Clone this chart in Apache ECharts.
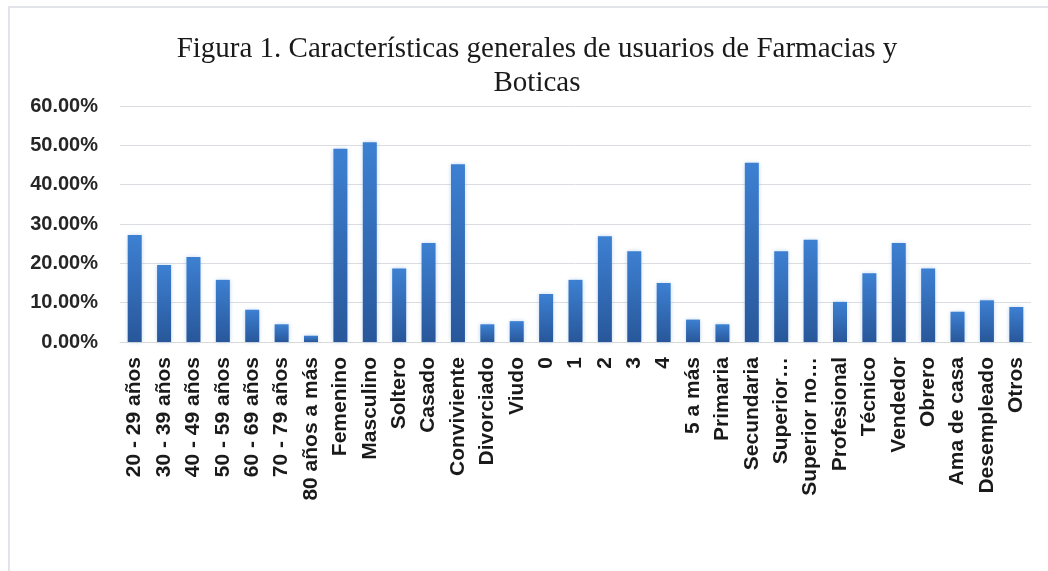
<!DOCTYPE html>
<html>
<head>
<meta charset="utf-8">
<script src="https://cdn.jsdelivr.net/npm/echarts@6/dist/echarts.min.js"></script>
<style>
  html, body { margin: 0; padding: 0; background: #fff; }
  #frame {
    position: absolute; left: 8px; top: 6px; width: 1100px; height: 600px;
    border-top: 2px solid #e1e5ea; border-left: 2px solid #e1e5ea;
  }
  #charts { position: absolute; left: 0; top: 0; width: 1048px; height: 571px; }
</style>
</head>
<body>
<div id="frame"></div>
<div id="charts"></div>
<script>
// categorías del eje x
var categorias = [
  "20 - 29 años", "30 - 39 años", "40 - 49 años", "50 - 59 años", "60 - 69 años",
  "70 - 79 años", "80 años a más", "Femenino", "Masculino", "Soltero", "Casado",
  "Conviviente", "Divorciado", "Viudo", "0", "1", "2", "3", "4", "5 a más",
  "Primaria", "Secundaria", "Superior…", "Superior no…", "Profesional", "Técnico",
  "Vendedor", "Obrero", "Ama de casa", "Desempleado", "Otros"
];
// porcentajes (%)
var porcentajes = [
  27.2, 19.6, 21.6, 15.8, 8.2, 4.5, 1.6, 49.1, 50.8, 18.7, 25.2,
  45.2, 4.5, 5.3, 12.2, 15.8, 26.9, 23.1, 15.0, 5.7,
  4.5, 45.6, 23.1, 26.0, 10.2, 17.5, 25.2, 18.7, 7.7, 10.6, 8.9
];
var ticksY = [0, 10, 20, 30, 40, 50, 60];

var myChart = echarts.init(document.getElementById("charts"));
myChart.setOption({
  animation: false,
  title: {
    text: "Figura 1. Características generales de usuarios de Farmacias y\nBoticas",
    left: 532,
    top: 27,
    textAlign: "center",
    textStyle: {
      fontFamily: "Liberation Serif",
      fontWeight: "normal",
      fontSize: 29,
      lineHeight: 34,
      color: "#1a1a1a",
    },
  },
  grid: { left: 120, right: 17, top: 106, bottom: 229, containLabel: false },
  xAxis: {
    type: "category",
    data: categorias,
    axisLine: { lineStyle: { color: "#d9d9d9" } },
    axisTick: { show: false },
    axisLabel: {
      interval: 0,
      rotate: 90,
      margin: 15,
      fontFamily: "Liberation Sans",
      fontWeight: "bold",
      fontSize: 21,
      color: "#1a1a1a",
    },
  },
  yAxis: {
    type: "value",
    min: ticksY[0],
    max: ticksY[ticksY.length - 1],
    interval: 10,
    axisLine: { show: false },
    axisTick: { show: false },
    splitLine: { lineStyle: { color: "#dadde2" } },
    axisLabel: {
      margin: 22,
      fontFamily: "Liberation Sans",
      fontWeight: "bold",
      fontSize: 20,
      color: "#262626",
      formatter: function (v) { return v.toFixed(2) + "%"; },
    },
  },
  series: [
    {
      type: "bar",
      data: porcentajes,
      barWidth: 14,
      itemStyle: {
        color: new echarts.graphic.LinearGradient(0, 0, 0, 1, [
          { offset: 0, color: "#3d80d2" },
          { offset: 1, color: "#28579a" },
        ]),
        shadowColor: "rgba(120,170,230,0.45)",
        shadowBlur: 4,
      },
    },
  ],
});
</script>
</body>
</html>
